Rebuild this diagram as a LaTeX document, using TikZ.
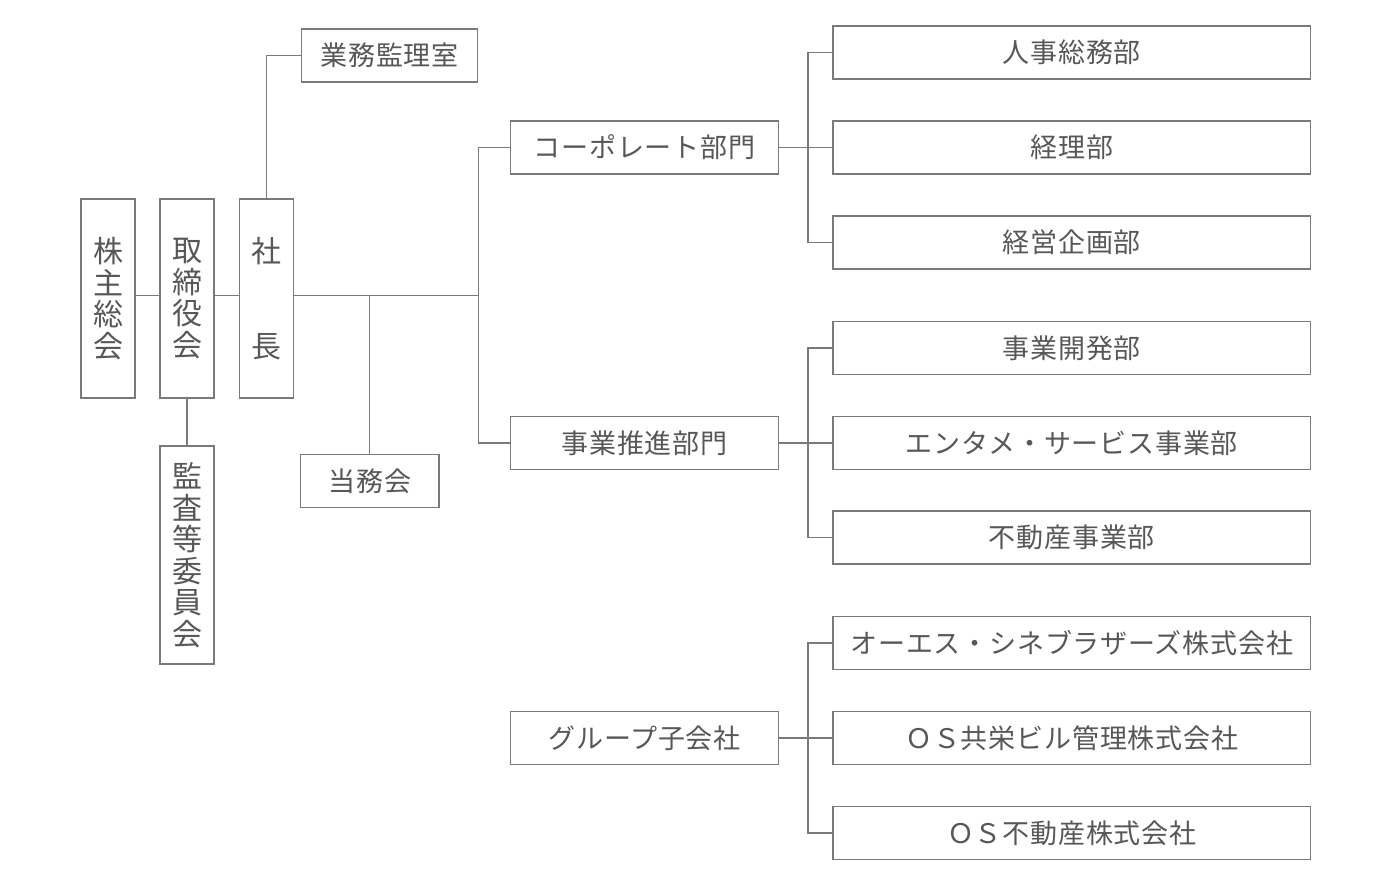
\documentclass[tikz,border=0pt]{standalone}
\usepackage{fontspec}
\setmainfont{Noto Sans CJK JP}[LetterSpace=3]
\definecolor{linegray}{HTML}{7A7A7A}
\definecolor{textgray}{HTML}{575757}

\begin{document}
\begin{tikzpicture}[x=1pt, y=-1pt,
        unit/.style={draw=linegray, line width=1.5pt, inner sep=0pt, text=textgray, minimum height=53pt, font=\fontsize{27}{31}\selectfont},
        vunit/.style={unit, minimum width=54pt, align=center, font=\fontsize{30}{31.5}\selectfont},
        mid/.style={unit, minimum width=267.6pt},
        dept/.style={unit, minimum width=477.7pt},
        link/.style={draw=linegray, line width=1.5pt}]
        \useasboundingbox (0,0) rectangle (1400,888);
        % left column
        \node[vunit, minimum height=199pt] at (108.0, 298.5)  (kabu)   {株\\主\\総\\会};
        \node[vunit, minimum height=199pt] at (187.0, 298.5)  (tori)   {取\\締\\役\\会};
        \node[vunit, minimum height=199pt] at (266.3, 298.5)  (shacho) {社\\[63pt]長};
        \node[vunit, minimum height=218pt] at (187.0, 555.0)  (kansa)  {監\\査\\等\\委\\員\\会};
        \node[unit, minimum width=175.6pt] at (389.5, 55.7)   (gyomu)  {業務監理室};
        \node[unit, minimum width=138.7pt] at (369.7, 480.8)  (toumu)  {当務会};
        \coordinate (hub) at (478.7, 295.3);
        % divisions
        \node[mid] at (644.5, 147.5)  (corp)  {コーポレート部門};
        \node[mid] at (644.5, 442.8)  (jigyo) {事業推進部門};
        \node[mid] at (644.5, 738.2)  (group) {グループ子会社};
        % departments
        \node[dept] at (1071.8, 52.5)   (soumu)    {人事総務部};
        \node[dept] at (1071.8, 147.5)  (keiri)    {経理部};
        \node[dept] at (1071.8, 242.5)  (kikaku)   {経営企画部};
        \node[dept] at (1071.8, 347.8)  (kaihatsu) {事業開発部};
        \node[dept] at (1071.8, 442.8)  (entame)   {エンタメ・サービス事業部};
        \node[dept] at (1071.8, 537.7)  (fudosan)  {不動産事業部};
        \node[dept] at (1071.8, 643.0)  (cine)     {オーエス・シネブラザーズ株式会社};
        \node[dept] at (1071.8, 738.2)  (osbiru)   {ＯＳ共栄ビル管理株式会社};
        \node[dept] at (1071.8, 832.8)  (osfudo)   {ＯＳ不動産株式会社};
        % connectors
        \draw[link] (kabu.east |- hub) -- (tori.west |- hub);
        \draw[link] (tori.east |- hub) -- (shacho.west |- hub);
        \draw[link] (shacho.east |- hub) -- (hub);
        \draw[link] (toumu.north) -- (toumu.north |- hub);
        \draw[link] (tori.south) -- (kansa.north);
        \draw[link] (shacho.north) |- (gyomu.west);
        \draw[link] (corp.west) -| (hub) |- (jigyo.west);
        \foreach \m/\t/\b in {corp/soumu/kikaku, jigyo/kaihatsu/fudosan, group/cine/osfudo} {
            \draw[link] (\m.east) -- (\m.east -| \t.west);
            \draw[link] (\t.west) -- ++(-24,0) |- (\b.west);
        }
    \end{tikzpicture}
\end{document}
